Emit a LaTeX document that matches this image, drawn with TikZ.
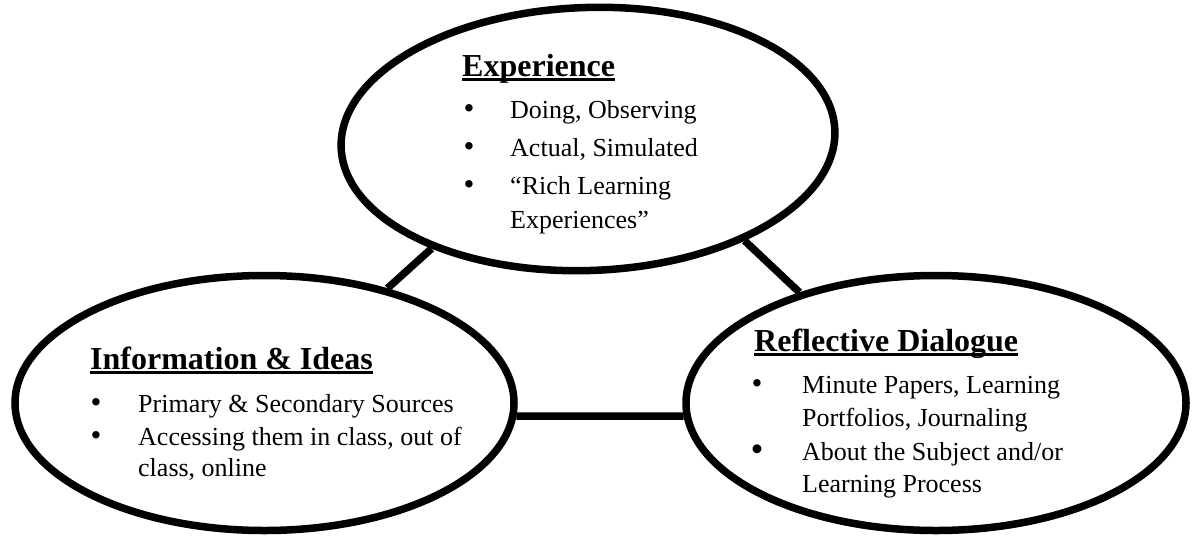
\documentclass[tikz,border=0pt]{standalone}
\usepackage{fontspec}
\setmainfont{Liberation Serif}
\usetikzlibrary{shapes.geometric}
\begin{document}
\begin{tikzpicture}[x=1pt,y=-1pt,
 ell/.style={draw=black, line width=7.5pt, ellipse, inner sep=0pt},
 conn/.style={draw=black, line width=7.5pt},
 head/.style={anchor=base west, inner sep=0pt, font=\fontsize{32}{38}\selectfont\bfseries},
 txt/.style={anchor=base west, inner sep=0pt, font=\fontsize{26}{30}\selectfont},
 bul/.style={anchor=base, inner sep=0pt, font=\fontsize{31}{30}\selectfont},
 bigbul/.style={anchor=base, inner sep=0pt, font=\fontsize{37}{30}\selectfont},
 uline/.style={line width=2.2pt}]
\useasboundingbox (0,0) rectangle (1193,535);
% ellipses
\node[ell, rotate=2, minimum width=494pt, minimum height=263pt] (T) at (588,139) {};
\node[ell, minimum width=499pt, minimum height=255pt] (L) at (264.5,403) {};
\node[ell, minimum width=500pt, minimum height=255pt] (R) at (936,403) {};
% connectors
\draw[conn] (L.43) -- (T.213);
\draw[conn] (T.-35.5) -- (R.141);
\draw[conn] (L.-3) -- (R.183);
% top text
\node[head] (Th) at (462,76) {Experience};
\draw[uline] ([yshift=-3.5pt]Th.base west) -- ([yshift=-3.5pt]Th.base east);
\node[bul] (Tb1) at (469,118) {\textbullet};
\node[txt] (Tt1) at (510,118) {Doing, Observing};
\node[bul] (Tb2) at (469,156) {\textbullet};
\node[txt] (Tt2) at (510,156) {Actual, Simulated};
\node[bul] (Tb3) at (469,194) {\textbullet};
\node[txt] (Tt3) at (510,194) {“Rich Learning};
\node[txt] (Tt4) at (510,228) {Experiences”};
% left text
\node[head] (Lh) at (90,369) {Information \& Ideas};
\draw[uline] ([yshift=-3.5pt]Lh.base west) -- ([yshift=-3.5pt]Lh.base east);
\node[bul] (Lb1) at (96,412) {\textbullet};
\node[txt] (Lt1) at (138,412) {Primary \& Secondary Sources};
\node[bul] (Lb2) at (96,445) {\textbullet};
\node[txt] (Lt2) at (138,445) {Accessing them in class, out of};
\node[txt] (Lt3) at (138,476) {class, online};
% right text
\node[head] (Rh) at (754,351) {Reflective Dialogue};
\draw[uline] ([yshift=-3.5pt]Rh.base west) -- ([yshift=-3.5pt]Rh.base east);
\node[bul] (Rb1) at (757,393) {\textbullet};
\node[txt] (Rt1) at (802,393) {Minute Papers, Learning};
\node[txt] (Rt2) at (802,426) {Portfolios, Journaling};
\node[bigbul] (Rb2) at (757,461) {\textbullet};
\node[txt] (Rt3) at (802,460) {About the Subject and/or};
\node[txt] (Rt4) at (802,492) {Learning Process};
\end{tikzpicture}
\end{document}
